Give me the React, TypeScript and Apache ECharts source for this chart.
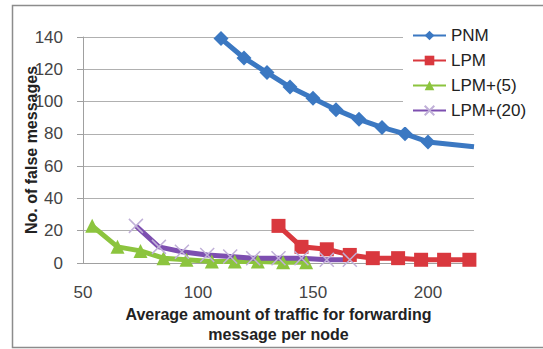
import React, { useEffect, useRef } from 'react';
import * as echarts from 'echarts';

const pnmX = [110, 120, 130, 140, 150, 160, 170, 180, 190, 200, 220];
const pnmY = [139, 127, 118, 109, 102, 95, 89, 84, 80, 75, 72];
const lpmX = [135, 145, 156, 166, 176, 187, 197, 207, 218];
const lpmY = [23, 10, 8.5, 5, 3, 3, 2, 2, 2];
const lpm5X = [54, 65, 75, 85, 95, 106, 116, 126, 137, 147];
const lpm5Y = [23, 10, 7.5, 3, 2, 1, 1, 1, 0.5, 0.5];
const lpm20X = [73, 83, 93, 104, 114, 124, 135, 145, 156, 166];
const lpm20Y = [23, 10, 7, 5, 4, 3, 3, 3, 2, 2];
const seriesNames = ['PNM', 'LPM', 'LPM+(5)', 'LPM+(20)'];
const xTitle = 'Average amount of traffic for forwarding\nmessage per node';
const yTitle = 'No. of false messages';

const zip = (xs: number[], ys: number[]) => xs.map((x, i) => [x, ys[i]]);

export default function App() {
  const ref = useRef<HTMLDivElement>(null);
  useEffect(() => {
    if (!ref.current) return;
    const chart = echarts.init(ref.current, null, { renderer: 'svg' });
    const font = '"Liberation Sans", Arial, sans-serif';
    const pnmData = zip(pnmX, pnmY).map((v, i, arr) =>
      i === arr.length - 1 ? { value: v, symbolSize: 0 } : v
    );
    chart.setOption({
      animation: false,
      backgroundColor: '#ffffff',
      textStyle: { fontFamily: font },
      graphic: [
        {
          type: 'rect',
          shape: { x: 12.5, y: 5.5, width: 560, height: 342 },
          style: { fill: 'none', stroke: '#8c8c8c', lineWidth: 1.5 },
          z: -1,
        },
      ],
      grid: { left: 83, top: 37, right: 69, bottom: 83 },
      legend: {
        left: 403,
        top: 25,
        orient: 'vertical',
        padding: [2, 60, 8, 9],
        backgroundColor: '#ffffff',
        itemWidth: 33,
        itemHeight: 12,
        itemGap: 8,
        textStyle: { fontSize: 17, color: '#222', fontFamily: font },
        data: seriesNames,
      },
      xAxis: {
        type: 'value',
        min: 50,
        max: 220,
        interval: 50,
        name: xTitle,
        nameLocation: 'middle',
        nameGap: 41,
        nameMoveOverlap: false,
        nameTextStyle: { fontSize: 16, fontWeight: 'bold', color: '#222', lineHeight: 20, fontFamily: font },
        axisLine: { show: true, lineStyle: { color: '#a0a0a0', width: 1 } },
        axisTick: { show: false },
        axisLabel: { fontSize: 17, color: '#444', margin: 21, showMaxLabel: false, fontFamily: font },
        splitLine: { show: false },
      },
      yAxis: {
        type: 'value',
        min: 0,
        max: 140,
        interval: 20,
        name: yTitle,
        nameLocation: 'middle',
        nameGap: 44,
        nameMoveOverlap: false,
        nameTextStyle: { fontSize: 16, fontWeight: 'bold', color: '#222', fontFamily: font },
        axisLine: { show: true, lineStyle: { color: '#a0a0a0', width: 1 } },
        axisTick: { show: true, length: 6, inside: false, lineStyle: { color: '#a0a0a0' } },
        axisLabel: { fontSize: 17, color: '#444', margin: 20, fontFamily: font },
        splitLine: { show: true, lineStyle: { color: '#b0b0b0', width: 1 } },
      },
      series: [
        {
          name: seriesNames[0],
          type: 'line',
          data: pnmData,
          symbol: 'diamond',
          symbolSize: 15,
          color: '#3b78c2',
          lineStyle: { width: 5, color: '#3b78c2' },
          itemStyle: { color: '#3b78c2' },
        },
        {
          name: seriesNames[1],
          type: 'line',
          data: zip(lpmX, lpmY),
          symbol: 'rect',
          symbolSize: 14,
          color: '#d9383e',
          lineStyle: { width: 5, color: '#d9383e' },
          itemStyle: { color: '#d9383e' },
        },
        {
          name: seriesNames[2],
          type: 'line',
          data: zip(lpm5X, lpm5Y),
          symbol: 'triangle',
          symbolSize: 14,
          color: '#8cc43e',
          lineStyle: { width: 5, color: '#8cc43e' },
          itemStyle: { color: '#8cc43e' },
        },
        {
          name: seriesNames[3],
          type: 'line',
          data: zip(lpm20X, lpm20Y),
          symbol: 'path://M0,0L10,10M10,0L0,10',
          symbolSize: 14,
          color: '#7d4fb0',
          lineStyle: { width: 5, color: '#7d4fb0' },
          itemStyle: { color: 'rgba(0,0,0,0)', borderColor: '#c0b0d8', borderWidth: 1.5 },
          z: 3,
        },
      ],
    });
    return () => chart.dispose();
  }, []);
  return (
    <div
      ref={ref}
      style={{ position: 'absolute', left: 0, top: 0, width: 543, height: 349 }}
    />
  );
}
